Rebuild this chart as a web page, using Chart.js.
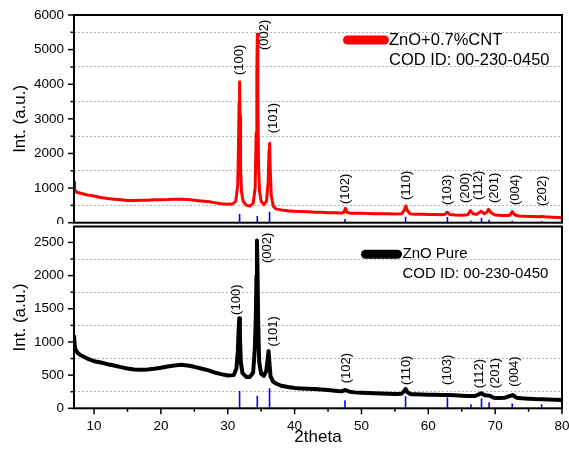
<!DOCTYPE html>
<html><head><meta charset="utf-8">
<script src="https://cdn.jsdelivr.net/npm/chart.js@4.4.1/dist/chart.umd.min.js"></script>
<style>
html,body{margin:0;padding:0;background:#fff;}
#wrap{position:relative;width:569px;height:452px;overflow:hidden;}
canvas{position:absolute;left:0;}
#c1{top:0;width:569px;height:224px;}
#c2{top:224px;width:569px;height:228px;}
</style></head><body>
<div id="wrap"><canvas id="c1" width="569" height="224"></canvas><canvas id="c2" width="569" height="228"></canvas></div>
<script>
// ---------- DATA ----------
const seriesCNT = 'ZnO+0.7%CNT';
const seriesPure = 'ZnO Pure';
const refText = 'COD ID: 00-230-0450';

const thetaCNT = [7.0,7.1,7.4,8,9,10,11,12,13,14,15,16,17,18,19,20,21,22,23,24,25,26,27,28,29,30,30.8,31.2,31.5,31.62,31.7,31.77,31.84,31.92,32.05,32.3,32.8,33.3,33.8,34.1,34.25,34.35,34.42,34.5,34.6,34.75,35.0,35.4,35.8,36.05,36.18,36.26,36.35,36.5,36.8,37.2,38,39,40,41,42,43,44,45,46,47,47.35,47.6,47.85,48.3,49,50,51,52,53,54,55,56.0,56.35,56.63,56.9,57.3,58,59,60,61,62,62.5,62.83,63.2,64,65,65.9,66.3,66.7,67.2,67.9,68.4,68.75,69.0,69.4,70,71,72,72.3,72.57,72.9,73.5,74.5,75.5,76.5,77,77.5,78.5,79.5,80];
const intCNT   = [1170,950,880,850,800,770,730,700,680,660,640,640,650,650,660,665,670,680,680,670,650,630,610,580,545,530,550,620,1100,2400,3500,4073,3100,1600,900,620,500,480,560,1000,2600,4300,5442,3800,1700,900,620,520,620,1200,2100,2293,1600,800,480,400,370,345,330,322,315,305,300,290,285,280,300,415,300,275,272,270,266,262,258,255,250,260,340,482,340,255,245,242,240,236,232,245,309,235,222,218,230,347,260,240,329,260,300,387,290,220,210,205,240,318,230,195,185,180,175,180,170,160,150,145];

const thetaPure = [7.0,7.15,7.5,8,9,10,11,12,13,14,15,16,17,18,19,20,21,22,23,24,25,26,27,28,29,30,30.9,31.3,31.5,31.62,31.72,31.82,31.95,32.2,32.8,33.3,33.8,34.05,34.2,34.3,34.37,34.45,34.55,34.7,35.0,35.4,35.75,35.95,36.1,36.22,36.4,36.8,37.3,38,39,40,41,42,43,44,45,46,47.0,47.6,48.2,49,50,51,52,53,54,55,56.0,56.35,56.6,56.9,57.4,58,59,60,61,62,63,64,65,66,67,67.9,68.5,69.2,69.8,70.5,71.5,72.6,73.2,74,75,76,77,78,79,80];
const intPure   = [1100,900,840,800,750,710,690,665,645,620,600,585,580,585,595,610,630,645,655,645,625,600,575,540,515,495,500,600,850,1150,1359,1100,700,530,470,470,540,900,1400,2000,2530,2100,1300,700,520,490,560,720,865,700,480,400,370,340,320,305,300,295,290,285,275,265,255,276,250,240,235,230,226,222,218,215,220,255,291,240,212,210,208,205,203,200,200,195,190,185,185,226,195,190,160,155,160,200,160,150,145,140,138,133,128,125];

// reference pattern (COD 00-230-0450) stick positions and heights
const stickPos   = [31.77,34.42,36.25,47.54,56.60,62.86,66.38,67.96,69.10,72.56,76.95];
const stickCNT   = [250,193,318,106,173,164,58,144,87,58,48];
const stickPure  = [262,191,302,121,181,166,60,146,91,71,60];

// peak (hkl) annotations: text, x (2theta), y (intensity at text start)
const peakTextCNT = ['(100)','(002)','(101)','(102)','(110)','(103)','(200)','(112)','(201)','(004)','(202)'];
const peakXCNT    = [31.72,35.46,36.81,47.6,56.74,62.83,65.57,67.48,69.82,72.96,77.07];
const peakYCNT    = [4266,4988,2582,540,656,511,569,656,569,511,482];
const peakTextPure = ['(100)','(002)','(101)','(102)','(110)','(103)','(112)','(201)','(004)'];
const peakXPure    = [31.37,35.87,36.77,47.7,56.74,62.83,67.72,69.97,72.81];
const peakYPure    = [1408,2189,930,377,352,352,302,302,326];

// axis ticks
const xMajor = [10,20,30,40,50,60,70,80];
const xMinor = [15,25,35,45,55,65,75];
const yMajorCNT = [0,1000,2000,3000,4000,5000,6000];
const yMinorCNT = [500,1500,2500,3500,4500,5500];
const yMajorPure = [0,500,1000,1500,2000,2500];
const yMinorPure = [250,750,1250,1750,2250];

// ---------- RENDER ----------
const FONT = "'Liberation Sans', Arial, sans-serif";
Chart.defaults.font.family = FONT;
Chart.defaults.color = '#000';

function pts(xs, ys){ return xs.map((x,i)=>({x:x, y:ys[i]})); }
function sticks(pos, h){
  const d = [];
  pos.forEach((p,i)=>{ d.push({x:p,y:0}); d.push({x:p,y:h[i]}); d.push({x:p,y:null}); });
  return d;
}

const decor = {
  id: 'decor',
  afterDatasetsDraw(chart, args, o){
    const {ctx, chartArea:a, scales} = chart;
    const xs = scales.x, ys = scales.y;
    ctx.save();
    // peak labels
    ctx.fillStyle = '#000';
    ctx.font = "13px " + FONT;
    ctx.textAlign = 'left'; ctx.textBaseline = 'middle';
    o.peakText.forEach((t,i)=>{
      const px = xs.getPixelForValue(o.peakX[i]);
      const py = ys.getPixelForValue(o.peakY[i]);
      ctx.save(); ctx.translate(px,py); ctx.rotate(-Math.PI/2); ctx.fillText(t,0,0); ctx.restore();
    });
    // frame
    ctx.strokeStyle = '#000'; ctx.lineWidth = 2;
    ctx.strokeRect(a.left, a.top, a.right-a.left, a.bottom-a.top);
    // tick marks
    ctx.lineWidth = 1.5;
    const seg=(x1,y1,x2,y2)=>{ctx.beginPath();ctx.moveTo(x1,y1);ctx.lineTo(x2,y2);ctx.stroke();};
    o.yMajor.forEach(v=>{const y=ys.getPixelForValue(v); seg(a.left-6,y,a.left,y);});
    o.yMinor.forEach(v=>{const y=ys.getPixelForValue(v); seg(a.left-3.5,y,a.left,y);});
    if (o.xTicks){
      xMajor.forEach(v=>{const x=xs.getPixelForValue(v); seg(x,a.bottom,x,a.bottom+6);});
      xMinor.forEach(v=>{const x=xs.getPixelForValue(v); seg(x,a.bottom,x,a.bottom+3.5);});
    }
    // legend
    const L = o.legend;
    ctx.strokeStyle = L.color; ctx.lineWidth = 9; ctx.lineCap = 'round';
    seg(L.x1+4.5, L.y, L.x2-4.5, L.y);
    ctx.fillStyle = '#000';
    ctx.font = L.size + "px " + FONT;
    ctx.textAlign = 'left'; ctx.textBaseline = 'middle';
    ctx.fillText(L.t1, L.tx, L.y);
    ctx.fillText(L.t2, L.tx, L.y + L.gap);
    ctx.restore();
  }
};

function makeChart(id, cfg){
  return new Chart(document.getElementById(id), {
    type: 'line',
    data: { datasets: [
      { data: pts(cfg.xs, cfg.ys), borderColor: cfg.color, borderWidth: cfg.lw, pointRadius: 0, tension: 0, borderJoinStyle: 'round' },
      { data: sticks(stickPos, cfg.stick), borderColor: '#0000ff', borderWidth: 1.6, pointRadius: 0, spanGaps: false }
    ]},
    options: {
      responsive: false, animation: false, devicePixelRatio: 1,
      layout: { padding: cfg.pad },
      plugins: { legend: {display:false}, tooltip: {enabled:false}, decor: cfg.decor },
      scales: {
        x: {
          type: 'linear', min: 7, max: 80, display: cfg.showX,
          grid: { display: false, drawTicks: false }, border: { display: false },
          ticks: { autoSkip: false, maxRotation: 0, padding: 9.9, font: { size: 13.5 } },
          afterBuildTicks: s => { s.ticks = xMajor.map(v=>({value:v})); },
          afterFit: s => { if (cfg.xHeight) s.height = cfg.xHeight; s.paddingLeft = 0; s.paddingRight = 0; },
          title: { display: cfg.showX, text: '2theta', font: { size: 17 }, padding: { top: 0, bottom: 4.8 } }
        },
        y: {
          min: 0, max: cfg.ymax,
          grid: { drawTicks: false, lineWidth: 1,
                  color: c => (cfg.yMinor.includes(c.tick.value) ? '#b4b4b4' : 'rgba(0,0,0,0)') },
          border: { display: false, dash: [2,2] },
          ticks: { autoSkip: false, padding: 10, font: { size: 13.5 },
                   callback: v => (cfg.yMajor.includes(v) ? String(v) : '') },
          afterBuildTicks: s => { s.ticks = cfg.yMajor.concat(cfg.yMinor).sort((a,b)=>a-b).map(v=>({value:v})); },
          afterFit: s => { s.width = 74; s.paddingTop = 0; s.paddingBottom = 0; },
          title: { display: true, text: 'Int. (a.u.)', font: { size: 17 }, padding: { top: 10.3, bottom: 0 } }
        }
      }
    },
    plugins: [decor]
  });
}

makeChart('c1', {
  xs: thetaCNT, ys: intCNT, color: '#ff0000', lw: 3, stick: stickCNT, ymax: 6000,
  yMajor: yMajorCNT, yMinor: yMinorCNT, showX: false, xHeight: 0,
  pad: { left: 0, right: 7, top: 15, bottom: 1.3 },
  decor: { peakText: peakTextCNT, peakX: peakXCNT, peakY: peakYCNT, yMajor: yMajorCNT, yMinor: yMinorCNT, xTicks: false,
           legend: { color: '#ff0000', x1: 343, x2: 389, y: 40, tx: 389, size: 16.5, gap: 20.5, t1: seriesCNT, t2: refText } }
});

makeChart('c2', {
  xs: thetaPure, ys: intPure, color: '#000000', lw: 4, stick: stickPure, ymax: 2740,
  yMajor: yMajorPure, yMinor: yMinorPure, showX: true, xHeight: 43.7,
  pad: { left: 0, right: 7, top: 2.5, bottom: 0 },
  decor: { peakText: peakTextPure, peakX: peakXPure, peakY: peakYPure, yMajor: yMajorPure, yMinor: yMinorPure, xTicks: true,
           legend: { color: '#000000', x1: 361, x2: 402, y: 30.3, tx: 402.5, size: 15, gap: 19.2, t1: seriesPure, t2: refText } }
});
</script>
</body></html>
